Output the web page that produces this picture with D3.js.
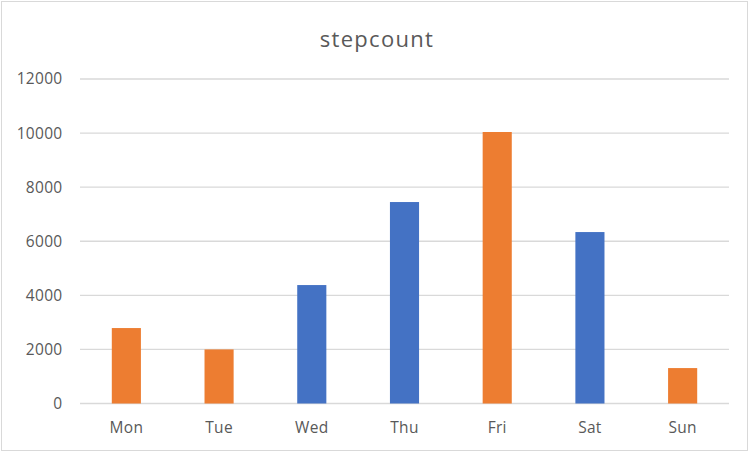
<!DOCTYPE html>
<html>
<head>
<meta charset="utf-8">
<script src="https://cdn.jsdelivr.net/npm/d3@7"></script>
<style>
  body { margin: 0; background: #fff; }
  text { font-family: "Open Sans", sans-serif; fill: #595959; }
</style>
</head>
<body>
<svg id="chart"></svg>
<script>
const days = ["Mon", "Tue", "Wed", "Thu", "Fri", "Sat", "Sun"];
const steps = [2790, 2000, 4380, 7450, 10040, 6340, 1310];
const barColors = ["#ED7D31", "#ED7D31", "#4472C4", "#4472C4", "#ED7D31", "#4472C4", "#ED7D31"];
const yTicks = [0, 2000, 4000, 6000, 8000, 10000, 12000];

const width = 752, height = 452;
const plot = { left: 80, right: 729, top: 79, bottom: 403.5 };

const svg = d3.select("#chart").attr("width", width).attr("height", height);

// chart border
svg.append("rect")
  .attr("x", 1.5).attr("y", 1.5)
  .attr("width", 746).attr("height", 449)
  .attr("fill", "#fff")
  .attr("stroke", "#D9D9D9")
  .attr("stroke-width", 1);

const x = d3.scaleBand()
  .domain(days)
  .range([plot.left, plot.right])
  .paddingInner(0.686)
  .paddingOuter(0.343);

const y = d3.scaleLinear()
  .domain([0, 12000])
  .range([plot.bottom, plot.top]);

// gridlines
svg.append("g")
  .selectAll("line")
  .data(yTicks)
  .enter()
  .append("line")
  .attr("x1", plot.left)
  .attr("x2", plot.right)
  .attr("y1", (d) => y(d))
  .attr("y2", (d) => y(d))
  .attr("stroke", "#D9D9D9")
  .attr("stroke-width", 1.3);

// y tick labels
svg.append("g")
  .selectAll("text")
  .data(yTicks)
  .enter()
  .append("text")
  .attr("x", 62.5)
  .attr("y", (d) => y(d))
  .attr("dy", "0.35em")
  .attr("text-anchor", "end")
  .attr("font-size", "15.5px")
  .attr("letter-spacing", "0.3px")
  .text((d) => d);

// bars
svg.append("g")
  .selectAll("rect")
  .data(days)
  .enter()
  .append("rect")
  .attr("x", (d) => x(d))
  .attr("y", (d, i) => y(steps[i]))
  .attr("width", x.bandwidth())
  .attr("height", (d, i) => y(0) - y(steps[i]))
  .attr("fill", (d, i) => barColors[i]);

// x labels
svg.append("g")
  .selectAll("text")
  .data(days)
  .enter()
  .append("text")
  .attr("x", (d) => x(d) + x.bandwidth() / 2)
  .attr("y", 433.3)
  .attr("text-anchor", "middle")
  .attr("font-size", "15.5px")
  .attr("letter-spacing", "0.3px")
  .text((d) => d);

// title
svg.append("text")
  .attr("x", 377)
  .attr("y", 46.7)
  .attr("text-anchor", "middle")
  .attr("font-size", "22px")
  .attr("letter-spacing", "1.3px")
  .text("stepcount");
</script>
</body>
</html>
